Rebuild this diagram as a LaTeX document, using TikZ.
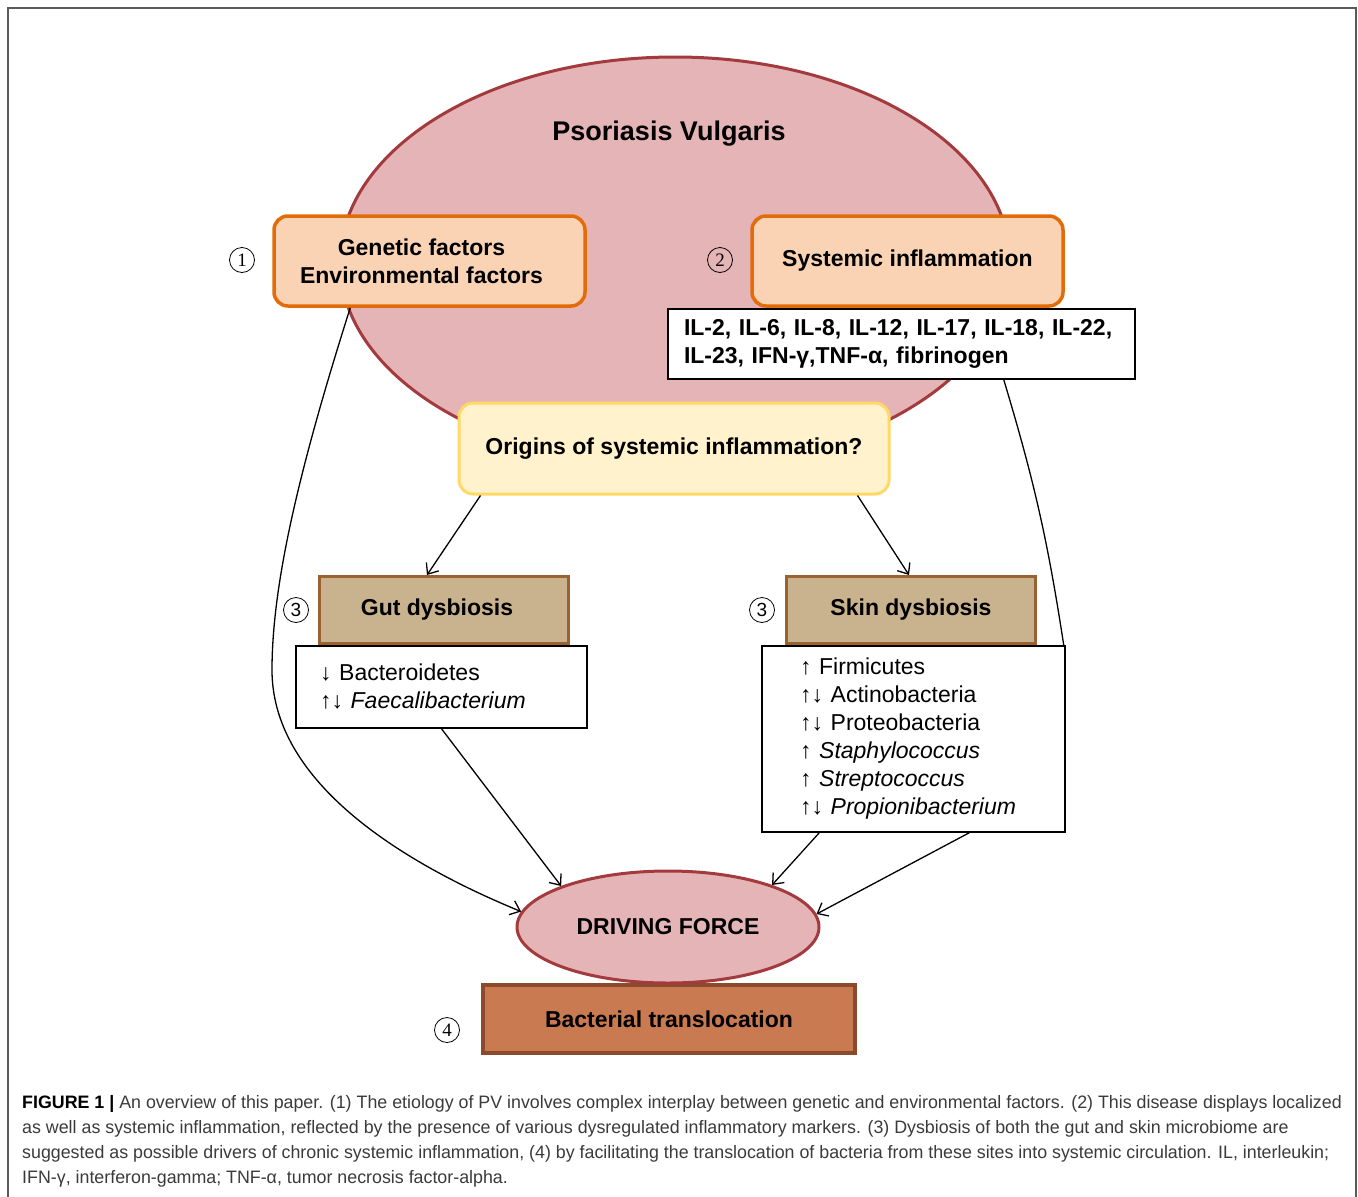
\documentclass[tikz,border=0pt]{standalone}
\usepackage{fontspec}
\setmainfont{Liberation Sans}
\newfontfamily\numserif{Liberation Serif}
\newfontfamily\capfont[FakeStretch=0.99]{Liberation Sans}
\usetikzlibrary{arrows.meta,calc,positioning,shapes.geometric}
\definecolor{Rose}{HTML}{E5B4B6}
\definecolor{RoseLine}{HTML}{A33A3E}
\definecolor{Peach}{HTML}{FAD3B5}
\definecolor{OrangeLine}{HTML}{E36C0A}
\definecolor{Cream}{HTML}{FFF2CC}
\definecolor{Gold}{HTML}{FFD966}
\definecolor{Tan}{HTML}{C9B38F}
\definecolor{TanLine}{HTML}{9A6230}
\definecolor{Clay}{HTML}{C97A50}
\definecolor{ClayLine}{HTML}{8A4A2B}
\definecolor{Frame}{HTML}{5A5A5A}
\definecolor{CapText}{HTML}{3A3A3A}

\begin{document}
\begin{tikzpicture}[x=1pt,y=-1pt,>={Straight Barb[length=9pt,width=15pt]},
  lbl/.style={font=\fontsize{23}{28}\selectfont\bfseries},
  factor/.style={lbl,draw=OrangeLine,fill=Peach,line width=3.5pt,rounded corners=14pt,minimum width=311pt,minimum height=90pt,align=center},
  dysb/.style={lbl,draw=TanLine,fill=Tan,line width=3pt,minimum width=249pt,minimum height=67pt},
  listbox/.style={draw,fill=white,line width=1.5pt,align=left,font=\fontsize{23}{28}\selectfont},
  num/.style={circle,draw,line width=0.8pt,inner sep=0pt,minimum size=25pt,font=\numserif\fontsize{19}{19}\selectfont},
  link/.style={line width=1.3pt,->}]
  \useasboundingbox (0,0) rectangle (1358,1197);
  \draw[Frame,line width=2pt] (8,1197) -- (8,8) -- (1356,8) -- (1356,1197);

  \node[ellipse,draw=RoseLine,fill=Rose,line width=3pt,minimum width=670pt,minimum height=410pt] (pv) at (675,262) {};
  \node[font=\fontsize{27}{32}\selectfont\bfseries] (pvtitle) at (669,134) {Psoriasis Vulgaris};
  \node[factor] (genetic) at (429.5,261) {Genetic factors\hspace*{16pt}\\Environmental factors\hspace*{16pt}};
  \node[factor] (systemic) at (907.5,261) {Systemic inflammation};
  \node[listbox,lbl,text width=435pt,inner xsep=16pt,minimum height=70pt] (cyto) at (901.5,344) {IL-2, IL-6, IL-8, IL-12, IL-17, IL-18, IL-22,\\IL-23, IFN-γ,TNF-α, fibrinogen};
  \node[num] (n1) at (242,260) {1};
  \node[num] (n2) at (720,260) {2};

  \node[lbl,draw=Gold,fill=Cream,line width=3pt,rounded corners=14pt,minimum width=430pt,minimum height=91pt] (origins) at (674,448.5) {Origins of systemic inflammation?};

  \node[dysb] (gut) at (444,610) {Gut dysbiosis\hspace*{14pt}};
  \node[dysb] (skin) at (911,610) {Skin dysbiosis};
  \node[num,font=\fontsize{19}{19}\selectfont] (n3a) at (296,610) {3};
  \node[num,font=\fontsize{19}{19}\selectfont] (n3b) at (762,610) {3};
  \node[listbox,text width=243pt,inner xsep=24pt,minimum height=82pt] (gutlist) at (441.5,687) {↓ Bacteroidetes\\↑↓ \textit{Faecalibacterium}};
  \node[listbox,text width=227pt,inner xsep=38pt,minimum height=186pt] (skinlist) at (913.5,739) {↑ Firmicutes\\↑↓ Actinobacteria\\↑↓ Proteobacteria\\↑ \textit{Staphylococcus}\\↑ \textit{Streptococcus}\\↑↓ \textit{Propionibacterium}};

  \node[lbl,draw=ClayLine,fill=Clay,line width=4pt,minimum width=372pt,minimum height=68pt] (transloc) at (669,1019) {Bacterial translocation};
  \node[ellipse,lbl,draw=RoseLine,fill=Rose,line width=3pt,minimum width=302pt,minimum height=112pt] (driving) at (668,927) {DRIVING FORCE};
  \node[num] (n4) at (447,1030) {4};

  % arrows towards the driving force
  \draw[link] ([xshift=23pt]origins.south west) -- ([xshift=-17pt]gut.north);
  \draw[link] ([xshift=-33pt]origins.south east) -- ([xshift=-2pt]skin.north);
  \draw[link] (gutlist.south) -- (driving.159);
  \draw[link] ([xshift=58pt]skinlist.south west) -- (driving.22);
  \draw[link] ([xshift=208pt]skinlist.south west) -- (driving.5);
  \draw[link] ([xshift=78pt]genetic.south west) .. controls (302,460) and (272,580) .. (272,670)
    .. controls (272,790) and (420,870) .. (driving.174);
  \draw[line width=1.3pt] ([xshift=-132pt]cyto.south east) to[bend left=4] ([xshift=-2pt]skinlist.north east);

  \node[anchor=north west,align=left,text=CapText,font=\capfont\fontsize{18}{25}\selectfont,inner sep=0pt] (caption) at (22,1095) {\textcolor{black}{\textbf{FIGURE 1 |}} An overview of this paper. (1) The etiology of PV involves complex interplay between genetic and environmental factors. (2) This disease displays localized\\as well as systemic inflammation, reflected by the presence of various dysregulated inflammatory markers. (3) Dysbiosis of both the gut and skin microbiome are\\suggested as possible drivers of chronic systemic inflammation, (4) by facilitating the translocation of bacteria from these sites into systemic circulation. IL, interleukin;\\IFN-γ, interferon-gamma; TNF-α, tumor necrosis factor-alpha.};
\end{tikzpicture}
\end{document}
